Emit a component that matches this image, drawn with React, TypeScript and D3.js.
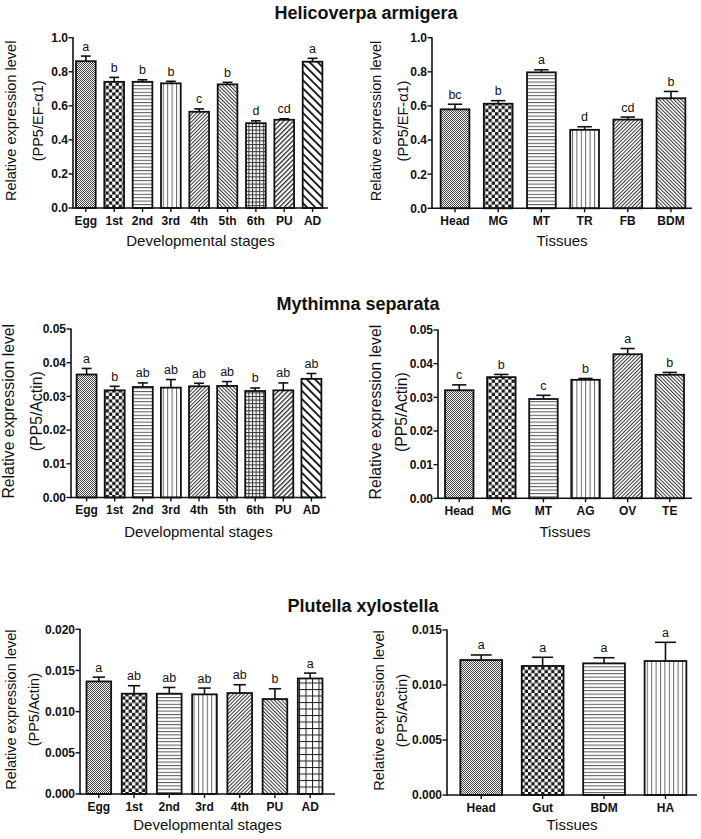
import React from 'react';
import * as d3 from 'd3';

const FONT = '"Liberation Sans", Arial, Helvetica, sans-serif';

// ---------- Data ----------
const helDevCats = ['Egg', '1st', '2nd', '3rd', '4th', '5th', '6th', 'PU', 'AD'];
const helDevMeans = [0.862, 0.741, 0.741, 0.732, 0.565, 0.726, 0.498, 0.518, 0.859];
const helDevErrs = [0.03, 0.026, 0.012, 0.012, 0.017, 0.012, 0.014, 0.006, 0.02];
const helDevLetters = ['a', 'b', 'b', 'b', 'c', 'b', 'd', 'cd', 'a'];

const helTisCats = ['Head', 'MG', 'MT', 'TR', 'FB', 'BDM'];
const helTisMeans = [0.58, 0.613, 0.797, 0.46, 0.52, 0.645];
const helTisErrs = [0.03, 0.018, 0.015, 0.018, 0.015, 0.04];
const helTisLetters = ['bc', 'b', 'a', 'd', 'cd', 'b'];

const mytDevCats = ['Egg', '1st', '2nd', '3rd', '4th', '5th', '6th', 'PU', 'AD'];
const mytDevMeans = [0.0365, 0.0318, 0.0328, 0.0326, 0.033, 0.0331, 0.0316, 0.0318, 0.0352];
const mytDevErrs = [0.0018, 0.0012, 0.0012, 0.0024, 0.0009, 0.0013, 0.0009, 0.0022, 0.0016];
const mytDevLetters = ['a', 'b', 'ab', 'ab', 'ab', 'ab', 'b', 'ab', 'ab'];

const mytTisCats = ['Head', 'MG', 'MT', 'AG', 'OV', 'TE'];
const mytTisMeans = [0.0321, 0.036, 0.0295, 0.0352, 0.0428, 0.0367];
const mytTisErrs = [0.0016, 0.0008, 0.0011, 0.0004, 0.0017, 0.0007];
const mytTisLetters = ['c', 'b', 'c', 'b', 'a', 'b'];

const pluDevCats = ['Egg', '1st', '2nd', '3rd', '4th', 'PU', 'AD'];
const pluDevMeans = [0.01367, 0.01218, 0.01218, 0.0121, 0.01226, 0.01153, 0.01403];
const pluDevErrs = [0.00052, 0.00097, 0.00076, 0.00076, 0.00101, 0.00125, 0.00065];
const pluDevLetters = ['a', 'ab', 'ab', 'ab', 'ab', 'b', 'a'];

const pluTisCats = ['Head', 'Gut', 'BDM', 'HA'];
const pluTisMeans = [0.01227, 0.01173, 0.01197, 0.01218];
const pluTisErrs = [0.00046, 0.00079, 0.00051, 0.0017];
const pluTisLetters = ['a', 'a', 'a', 'a'];

const speciesTitles = ['Helicoverpa armigera', 'Mythimna separata', 'Plutella xylostella'];

// ---------- Styles (fill patterns per bar) ----------
const patsDev9 = ['dot', 'check', 'hline', 'vline', 'diagR', 'diagL', 'grid', 'diagPU', 'diagAD'];
const patsTis6 = ['dot', 'check', 'hline', 'vline', 'diagR', 'diagL'];
const patsDev7 = ['dot', 'check', 'hline', 'vline', 'diagR', 'diagL', 'gridL'];
const patsTis4 = ['dot', 'check', 'hline', 'vline'];

type PanelCfg = {
  cats: string[]; means: number[]; errs: number[]; letters: string[]; pats: string[];
  left: number; right: number; axisEnd: number; pIn: number; pOut: number;
  top: number; bottom: number; yMax: number; step: number; fmt: string;
  yLab1: string; yLab2: string; t1x: number; t2x: number; tSize: number;
  xTitle: string; xTitleY: number;
};

const panels: PanelCfg[] = [
  {
    cats: helDevCats, means: helDevMeans, errs: helDevErrs, letters: helDevLetters, pats: patsDev9,
    left: 73, right: 325.4, axisEnd: 328, pIn: 0.305, pOut: 0.106,
    top: 37.7, bottom: 208, yMax: 1.0, step: 0.2, fmt: '.1f',
    yLab1: 'Relative expression level', yLab2: '(PP5/EF-\u03b11)', t1x: 15.5, t2x: 43, tSize: 14.5,
    xTitle: 'Developmental stages', xTitleY: 246,
  },
  {
    cats: helTisCats, means: helTisMeans, errs: helTisErrs, letters: helTisLetters, pats: patsTis6,
    left: 432, right: 694, axisEnd: 692, pIn: 0.334, pOut: 0.2,
    top: 37.7, bottom: 208.3, yMax: 1.0, step: 0.2, fmt: '.1f',
    yLab1: 'Relative expression level', yLab2: '(PP5/EF-\u03b11)', t1x: 381, t2x: 408, tSize: 14.5,
    xTitle: 'Tissues', xTitleY: 246,
  },
  {
    cats: mytDevCats, means: mytDevMeans, errs: mytDevErrs, letters: mytDevLetters, pats: patsDev9,
    left: 71, right: 327, axisEnd: 326, pIn: 0.29, pOut: 0.2,
    top: 329, bottom: 497.5, yMax: 0.05, step: 0.01, fmt: '.2f',
    yLab1: 'Relative expression level', yLab2: '(PP5/Actin)', t1x: 14, t2x: 42, tSize: 15.8,
    xTitle: 'Developmental stages', xTitleY: 537,
  },
  {
    cats: mytTisCats, means: mytTisMeans, errs: mytTisErrs, letters: mytTisLetters, pats: patsTis6,
    left: 438, right: 691, axisEnd: 692, pIn: 0.323, pOut: 0.166,
    top: 330, bottom: 498.3, yMax: 0.05, step: 0.01, fmt: '.2f',
    yLab1: 'Relative expression level', yLab2: '(PP5/Actin)', t1x: 381, t2x: 407, tSize: 15.8,
    xTitle: 'Tissues', xTitleY: 537,
  },
  {
    cats: pluDevCats, means: pluDevMeans, errs: pluDevErrs, letters: pluDevLetters, pats: patsDev7,
    left: 80, right: 329, axisEnd: 335, pIn: 0.3, pOut: 0.185,
    top: 629.3, bottom: 794, yMax: 0.02, step: 0.005, fmt: '.3f',
    yLab1: 'Relative expression level', yLab2: '(PP5/Actin)', t1x: 15.5, t2x: 38.5, tSize: 14.5,
    xTitle: 'Developmental stages', xTitleY: 830,
  },
  {
    cats: pluTisCats, means: pluTisMeans, errs: pluTisErrs, letters: pluTisLetters, pats: patsTis4,
    left: 447, right: 699.7, axisEnd: 697, pIn: 0.32, pOut: 0.217,
    top: 630, bottom: 795, yMax: 0.015, step: 0.005, fmt: '.3f',
    yLab1: 'Relative expression level', yLab2: '(PP5/Actin)', t1x: 384, t2x: 407, tSize: 14.5,
    xTitle: 'Tissues', xTitleY: 830,
  },
];

const titlePos = [
  { x: 366, y: 18.5 },
  { x: 358, y: 310 },
  { x: 363, y: 612 },
];

function Patterns() {
  const ink = '#1a1a1a';
  return (
    <defs>
      <pattern id="dot" patternUnits="userSpaceOnUse" width={2} height={2}>
        <rect width={2} height={2} fill="#f4f4f4" />
        <rect x={0} y={0} width={1} height={1} fill="#4a4a4a" />
        <rect x={1} y={1} width={1} height={1} fill="#4a4a4a" />
      </pattern>
      <pattern id="check" patternUnits="userSpaceOnUse" width={6.6} height={6.6}>
        <rect width={6.6} height={6.6} fill="#fff" />
        <rect x={0} y={0} width={3.3} height={3.3} fill={ink} />
        <rect x={3.3} y={3.3} width={3.3} height={3.3} fill={ink} />
      </pattern>
      <pattern id="hline" patternUnits="userSpaceOnUse" width={4} height={3.4}>
        <rect width={4} height={3.4} fill="#fff" />
        <rect x={0} y={0} width={4} height={1} fill="#555" />
      </pattern>
      <pattern id="vline" patternUnits="userSpaceOnUse" width={4.4} height={4}>
        <rect width={4.4} height={4} fill="#fff" />
        <rect x={0} y={0} width={1} height={4} fill="#666" />
      </pattern>
      <pattern id="diagR" patternUnits="userSpaceOnUse" width={2.6} height={4} patternTransform="rotate(45)">
        <rect width={2.6} height={4} fill="#fff" />
        <rect x={0} y={0} width={1} height={4} fill="#333" />
      </pattern>
      <pattern id="diagL" patternUnits="userSpaceOnUse" width={2.6} height={4} patternTransform="rotate(-45)">
        <rect width={2.6} height={4} fill="#fff" />
        <rect x={0} y={0} width={1} height={4} fill="#333" />
      </pattern>
      <pattern id="grid" patternUnits="userSpaceOnUse" width={3.6} height={3.6}>
        <rect width={3.6} height={3.6} fill="#fff" />
        <rect x={0} y={0} width={3.6} height={1} fill="#333" />
        <rect x={0} y={0} width={1} height={3.6} fill="#333" />
      </pattern>
      <pattern id="gridL" patternUnits="userSpaceOnUse" width={6.5} height={6.5}>
        <rect width={6.5} height={6.5} fill="#fff" />
        <rect x={0} y={0} width={6.5} height={1} fill="#222" />
        <rect x={0} y={0} width={1} height={6.5} fill="#222" />
      </pattern>
      <pattern id="diagPU" patternUnits="userSpaceOnUse" width={3.4} height={4} patternTransform="rotate(45)">
        <rect width={3.4} height={4} fill="#fff" />
        <rect x={0} y={0} width={1.3} height={4} fill="#2a2a2a" />
      </pattern>
      <pattern id="diagAD" patternUnits="userSpaceOnUse" width={5.8} height={4} patternTransform="rotate(-45)">
        <rect width={5.8} height={4} fill="#fff" />
        <rect x={0} y={0} width={1.8} height={4} fill="#111" />
      </pattern>
    </defs>
  );
}

function BarPanel({ p }: { p: PanelCfg }) {
  const x = d3.scaleBand<string>().domain(p.cats).range([p.left, p.right]).paddingInner(p.pIn).paddingOuter(p.pOut);
  const y = d3.scaleLinear().domain([0, p.yMax]).range([p.bottom, p.top]);
  const ticks = d3.range(0, Math.round(p.yMax / p.step) + 1).map((i) => i * p.step);
  const fmt = d3.format(p.fmt);
  const bw = x.bandwidth();
  const cy = (p.top + p.bottom) / 2 - 2;
  return (
    <g>
      {p.cats.map((c, i) => {
        const x0 = x(c) as number;
        const cx = x0 + bw / 2;
        const yv = y(p.means[i]);
        const ye = y(p.means[i] + p.errs[i]);
        return (
          <g key={c}>
            <rect x={x0} y={yv} width={bw} height={p.bottom - yv} fill={`url(#${p.pats[i]})`} />
            <rect x={x0} y={yv} width={bw} height={p.bottom - yv} fill="none" stroke="#111" strokeWidth={1.8} />
            <line x1={cx} x2={cx} y1={yv} y2={ye} stroke="#111" strokeWidth={1.6} />
            <line x1={cx - bw / 4} x2={cx + bw / 4} y1={ye} y2={ye} stroke="#111" strokeWidth={1.6} />
            <text x={cx} y={ye - 5.5} textAnchor="middle" fontSize={12.5} fontFamily={FONT} fill="#111">
              {p.letters[i]}
            </text>
            <line x1={cx} x2={cx} y1={p.bottom} y2={p.bottom + 4} stroke="#111" strokeWidth={1.4} />
            <text x={cx} y={p.bottom + 16.5} textAnchor="middle" fontSize={12} fontWeight="bold" fontFamily={FONT} fill="#111">
              {c}
            </text>
          </g>
        );
      })}
      {/* y axis */}
      <line x1={p.left} x2={p.left} y1={p.bottom + 0.8} y2={p.top - 0.5} stroke="#111" strokeWidth={1.6} />
      {ticks.map((t) => (
        <g key={t}>
          <line x1={p.left - 4.5} x2={p.left} y1={y(t)} y2={y(t)} stroke="#111" strokeWidth={1.4} />
          <text x={p.left - 5} y={y(t)} dy="0.36em" textAnchor="end" fontSize={12} fontWeight="bold" fontFamily={FONT} fill="#111">
            {fmt(t)}
          </text>
        </g>
      ))}
      {/* x axis */}
      <line x1={p.left} x2={p.axisEnd} y1={p.bottom} y2={p.bottom} stroke="#111" strokeWidth={1.6} />
      {/* axis titles */}
      <text transform={`translate(${p.t1x},${cy}) rotate(-90)`} textAnchor="middle" fontSize={p.tSize} fontFamily={FONT} fill="#111">
        {p.yLab1}
      </text>
      <text transform={`translate(${p.t2x},${cy}) rotate(-90)`} textAnchor="middle" fontSize={p.tSize} fontFamily={FONT} fill="#111">
        {p.yLab2}
      </text>
      <text x={(p.left + p.axisEnd) / 2} y={p.xTitleY} textAnchor="middle" fontSize={15} fontFamily={FONT} fill="#111">
        {p.xTitle}
      </text>
    </g>
  );
}

export default function App() {
  return (
    <svg
      width={701}
      height={839}
      viewBox="0 0 701 839"
      style={{ position: 'absolute', left: 0, top: 0, background: '#fff' }}
    >
      <rect width={701} height={839} fill="#fff" />
      <Patterns />
      {speciesTitles.map((t, i) => (
        <text key={t} x={titlePos[i].x} y={titlePos[i].y} textAnchor="middle" fontSize={18} fontWeight="bold" fontFamily={FONT} fill="#111">
          {t}
        </text>
      ))}
      {panels.map((p, i) => (
        <BarPanel key={i} p={p} />
      ))}
    </svg>
  );
}
